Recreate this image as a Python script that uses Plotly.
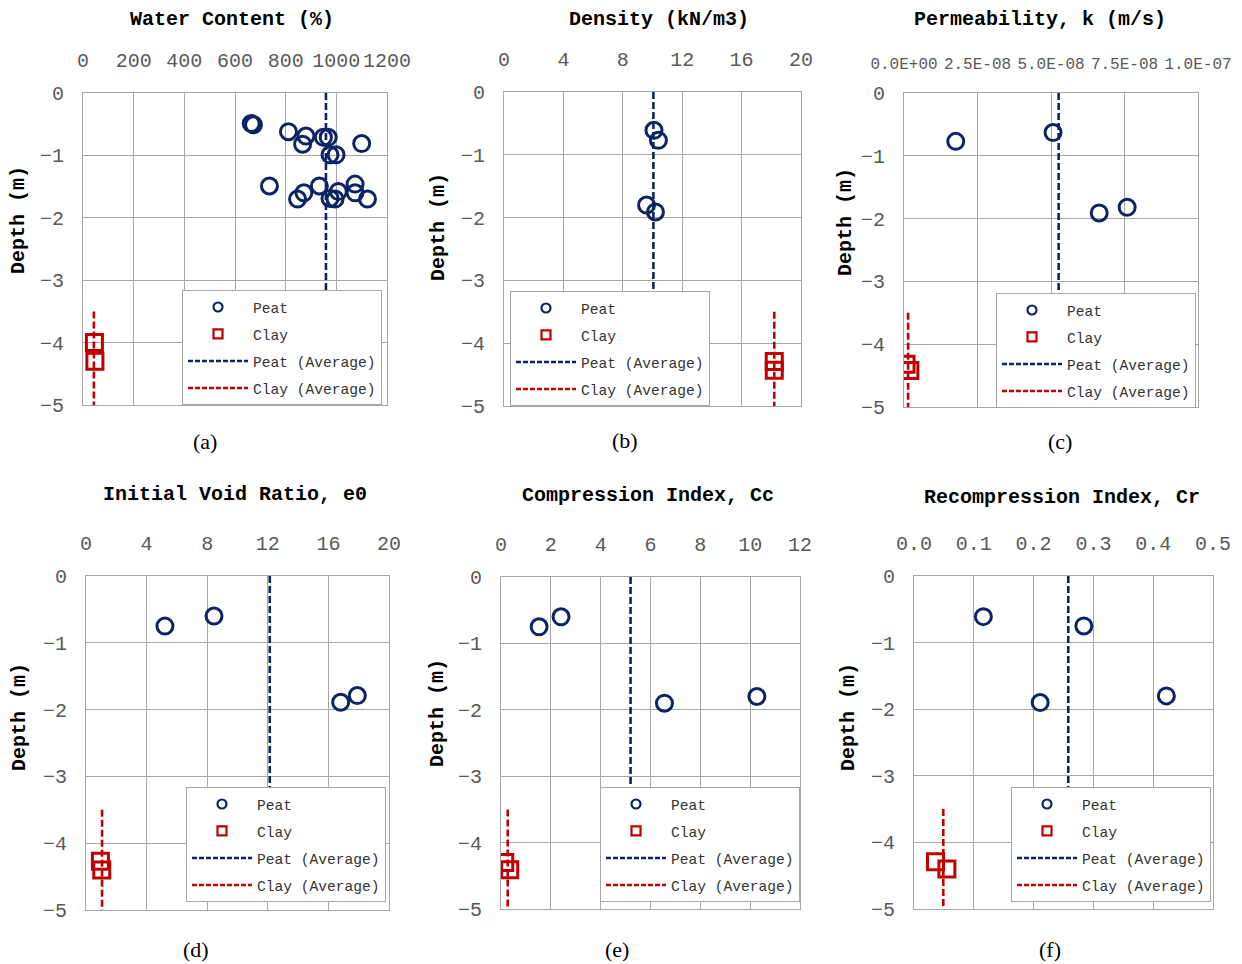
import plotly.graph_objects as go

PAGE_W, PAGE_H = 1242, 964
OFF = 8  # browser body margin
W, H = PAGE_W - OFF, PAGE_H - OFF

# ---------------- data ----------------
# (a) Water content (%)
wc_peat_x = [664, 673, 811, 880, 867, 949, 968, 975, 999, 1100,
             736, 933, 872, 847, 975, 995, 1008, 1074, 1074, 1123]
wc_peat_depth = [-0.49, -0.51, -0.62, -0.69, -0.82, -0.71, -0.71, -0.99, -0.99, -0.81,
                 -1.49, -1.49, -1.60, -1.70, -1.69, -1.70, -1.58, -1.46, -1.60, -1.70]
wc_clay_x = [45, 47]
wc_clay_depth = [-4.00, -4.30]
wc_peat_avg = 959
wc_clay_avg = 43

# (b) Density (kN/m3)
den_peat_x = [10.1, 10.4, 9.6, 10.2]
den_peat_depth = [-0.61, -0.77, -1.80, -1.91]
den_clay_x = [18.2, 18.2]
den_clay_depth = [-4.29, -4.43]
den_peat_avg = 10.06
den_clay_avg = 18.2

# (c) Permeability k (m/s)
k_peat_x = [1.76e-8, 5.07e-8, 6.64e-8, 7.59e-8]
k_peat_depth = [-0.77, -0.63, -1.91, -1.82]
k_clay_x = [0.7e-9, 2.0e-9]
k_clay_depth = [-4.32, -4.42]
k_peat_avg = 5.26e-8
k_clay_avg = 1.4e-9
k_tickvals = [0, 2.5e-8, 5.0e-8, 7.5e-8, 1.0e-7]
k_ticktext = ["0.0E+00", "2.5E-08", "5.0E-08", "7.5E-08", "1.0E-07"]

# (d) Initial void ratio e0
e0_peat_x = [5.21, 8.45, 16.81, 17.91]
e0_peat_depth = [-0.75, -0.60, -1.89, -1.79]
e0_clay_x = [0.95, 1.04]
e0_clay_depth = [-4.27, -4.40]
e0_peat_avg = 12.13
e0_clay_avg = 1.06

# (e) Compression index Cc
cc_peat_x = [1.53, 2.41, 6.56, 10.27]
cc_peat_depth = [-0.75, -0.60, -1.90, -1.80]
cc_clay_x = [0.15, 0.35]
cc_clay_depth = [-4.30, -4.41]
cc_peat_avg = 5.20
cc_clay_avg = 0.27

# (f) Recompression index Cr
cr_peat_x = [0.116, 0.284, 0.211, 0.422]
cr_peat_depth = [-0.61, -0.75, -1.90, -1.80]
cr_clay_x = [0.036, 0.055]
cr_clay_depth = [-4.29, -4.40]
cr_peat_avg = 0.258
cr_clay_avg = 0.049

peat_avg_depth = [0, -3.5]
clay_avg_depth = [-3.5, -5]
depth_range = [-5, 0]

titles = ["Water Content (%)", "Density (kN/m3)", "Permeability, k (m/s)",
          "Initial Void Ratio, e0", "Compression Index, Cc", "Recompression Index, Cr"]
captions = ["(a)", "(b)", "(c)", "(d)", "(e)", "(f)"]
legend_names = ["Peat", "Clay", "Peat (Average)", "Clay (Average)"]
y_title = "Depth (m)"

panels = [
    dict(px=wc_peat_x, pd=wc_peat_depth, cx=wc_clay_x, cd=wc_clay_depth,
         pa=wc_peat_avg, ca=wc_clay_avg, xr=[0, 1200], dtick=200),
    dict(px=den_peat_x, pd=den_peat_depth, cx=den_clay_x, cd=den_clay_depth,
         pa=den_peat_avg, ca=den_clay_avg, xr=[0, 20], dtick=4),
    dict(px=k_peat_x, pd=k_peat_depth, cx=k_clay_x, cd=k_clay_depth,
         pa=k_peat_avg, ca=k_clay_avg, xr=[0, 1e-7], tickvals=k_tickvals, ticktext=k_ticktext),
    dict(px=e0_peat_x, pd=e0_peat_depth, cx=e0_clay_x, cd=e0_clay_depth,
         pa=e0_peat_avg, ca=e0_clay_avg, xr=[0, 20], dtick=4),
    dict(px=cc_peat_x, pd=cc_peat_depth, cx=cc_clay_x, cd=cc_clay_depth,
         pa=cc_peat_avg, ca=cc_clay_avg, xr=[0, 12], dtick=2),
    dict(px=cr_peat_x, pd=cr_peat_depth, cx=cr_clay_x, cd=cr_clay_depth,
         pa=cr_peat_avg, ca=cr_clay_avg, xr=[0, 0.5], dtick=0.1, fmt=".1f"),
]

# ---------------- layout geometry (page pixels) ----------------
# plot areas: left, right, top, bottom
boxes = [(83, 387, 93, 405), (504, 801, 92, 406), (904, 1198, 93, 407),
         (86, 389, 576, 910), (501, 800, 577, 909), (914, 1213, 576, 909)]
title_pos = [(232, 19), (659, 19), (1040, 19), (235, 494), (648, 495), (1062, 497)]
ytitle_pos = [(19, 220), (438, 227), (845, 222), (19, 717), (437, 713), (848, 717)]
caption_pos = [(205, 441), (625, 440), (1060, 441), (196, 949), (617, 949), (1050, 949)]
legend_pos = [(182, 290), (510, 291), (996, 293), (186, 787), (600, 787), (1011, 787)]
xtick_size = [20, 20, 16, 20, 20, 20]

NAVY = "#0b2465"
RED = "#c00000"
GRID = "#a6a6a6"
TICK = "#595959"
MONO = "Liberation Mono, Courier New, monospace"

def fx(p):
    return (p - OFF) / W

def fy(p):
    return 1 - (p - OFF) / H

fig = go.Figure()
annotations = []

for i, p in enumerate(panels, start=1):
    xa = "x" if i == 1 else f"x{i}"
    ya = "y" if i == 1 else f"y{i}"
    lg = "legend" if i == 1 else f"legend{i}"

    # average lines
    fig.add_trace(go.Scatter(x=[p["pa"], p["pa"]], y=peat_avg_depth, mode="lines",
                             line=dict(color=NAVY, width=2.6, dash="7px,3px"),
                             xaxis=xa, yaxis=ya, showlegend=False, hoverinfo="skip"))
    fig.add_trace(go.Scatter(x=[p["ca"], p["ca"]], y=clay_avg_depth, mode="lines",
                             line=dict(color=RED, width=2.6, dash="7px,3px"),
                             xaxis=xa, yaxis=ya, showlegend=False, hoverinfo="skip"))
    # points
    fig.add_trace(go.Scatter(x=p["px"], y=p["pd"], mode="markers",
                             marker=dict(symbol="circle-open", size=16, color=NAVY,
                                         line=dict(width=3, color=NAVY)),
                             xaxis=xa, yaxis=ya, showlegend=False))
    fig.add_trace(go.Scatter(x=p["cx"], y=p["cd"], mode="markers",
                             marker=dict(symbol="square-open", size=16, color=RED,
                                         line=dict(width=3, color=RED)),
                             xaxis=xa, yaxis=ya, showlegend=False))

    # legend entries
    fig.add_trace(go.Scatter(x=[None], y=[None], mode="markers", name=legend_names[0],
                             marker=dict(symbol="circle-open", size=9, color=NAVY,
                                         line=dict(width=2.2, color=NAVY)),
                             xaxis=xa, yaxis=ya, legend=lg, legendgroup=f"g{i}a"))
    fig.add_trace(go.Scatter(x=[None], y=[None], mode="markers", name=legend_names[1],
                             marker=dict(symbol="square-open", size=9, color=RED,
                                         line=dict(width=2.2, color=RED)),
                             xaxis=xa, yaxis=ya, legend=lg, legendgroup=f"g{i}b"))
    fig.add_trace(go.Scatter(x=[None], y=[None], mode="lines", name=legend_names[2],
                             line=dict(color=NAVY, width=2.4, dash="5px,2px"),
                             xaxis=xa, yaxis=ya, legend=lg, legendgroup=f"g{i}c"))
    fig.add_trace(go.Scatter(x=[None], y=[None], mode="lines", name=legend_names[3],
                             line=dict(color=RED, width=2.4, dash="5px,2px"),
                             xaxis=xa, yaxis=ya, legend=lg, legendgroup=f"g{i}d"))

    l, r, t, b = boxes[i - 1]
    xaxis = dict(domain=[fx(l), fx(r)], anchor=ya, side="top", range=p["xr"],
                 showgrid=True, gridcolor=GRID, gridwidth=1, zeroline=False,
                 showline=True, linecolor=GRID, linewidth=1, mirror=True,
                 ticks="", tickangle=0, automargin=False,
                 tickfont=dict(family=MONO, size=xtick_size[i - 1], color=TICK),
                 ticklabelstandoff=17, fixedrange=True)
    if "tickvals" in p:
        xaxis.update(tickmode="array", tickvals=p["tickvals"], ticktext=p["ticktext"])
    else:
        xaxis.update(tickmode="linear", tick0=0, dtick=p["dtick"])
    if "fmt" in p:
        xaxis.update(tickformat=p["fmt"])
    yaxis = dict(domain=[fy(b), fy(t)], anchor=xa, range=depth_range,
                 tickmode="linear", tick0=0, dtick=1,
                 showgrid=True, gridcolor=GRID, gridwidth=1, zeroline=False,
                 showline=True, linecolor=GRID, linewidth=1, mirror=True,
                 ticks="", automargin=False,
                 tickfont=dict(family=MONO, size=20, color=TICK),
                 ticklabelstandoff=14, fixedrange=True)
    fig.layout[f"xaxis{'' if i == 1 else i}"] = xaxis
    fig.layout[f"yaxis{'' if i == 1 else i}"] = yaxis

    lx, ly = legend_pos[i - 1]
    fig.layout[lg] = dict(x=fx(lx), y=fy(ly), xanchor="left", yanchor="top",
                          xref="paper", yref="paper",
                          bgcolor="white", bordercolor=GRID, borderwidth=1,
                          font=dict(family=MONO, size=14.6, color="#333333"),
                          itemwidth=60, tracegroupgap=5, traceorder="grouped")

    tx, ty = title_pos[i - 1]
    annotations.append(dict(x=fx(tx), y=fy(ty), xref="paper", yref="paper",
                            text=f"<b>{titles[i - 1]}</b>", showarrow=False,
                            xanchor="center", yanchor="middle", height=20, valign="middle",
                            font=dict(family=MONO, size=20, color="black")))
    yx, yy = ytitle_pos[i - 1]
    annotations.append(dict(x=fx(yx), y=fy(yy), xref="paper", yref="paper",
                            text=f"<b>{y_title}</b>", showarrow=False, textangle=-90,
                            xanchor="center", yanchor="middle",
                            font=dict(family=MONO, size=20, color="black")))
    cx, cy = caption_pos[i - 1]
    annotations.append(dict(x=fx(cx), y=fy(cy), xref="paper", yref="paper",
                            text=captions[i - 1], showarrow=False,
                            xanchor="center", yanchor="middle",
                            font=dict(family="Liberation Serif, Times New Roman, serif",
                                      size=22, color="black")))

fig.update_layout(width=W, height=H,
                  margin=dict(l=0, r=0, t=0, b=0, autoexpand=False),
                  paper_bgcolor="white", plot_bgcolor="white",
                  annotations=annotations)

fig.write_html("out.html")
